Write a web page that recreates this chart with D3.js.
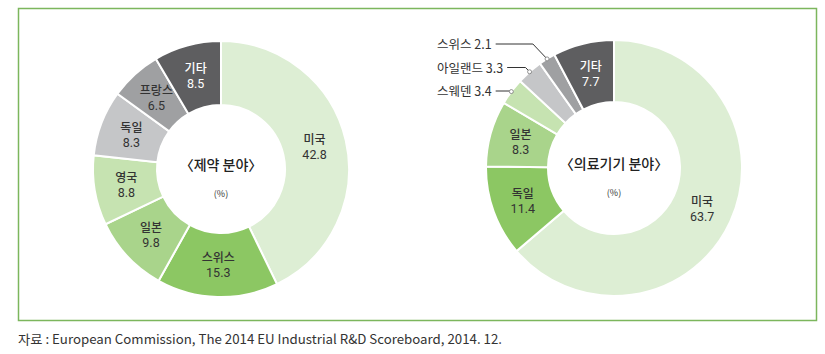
<!DOCTYPE html>
<html>
<head>
<meta charset="utf-8">
<script src="https://cdn.jsdelivr.net/npm/d3@7"></script>
<style>
  body { margin: 0; background: #fff; }
  svg { display: block; font-family: "Noto Sans CJK KR", "Noto Sans", sans-serif; }
</style>
</head>
<body>
<div id="chart"></div>
<script>
// 제약 분야
var pharmaNames = ['미국', '스위스', '일본', '영국', '독일', '프랑스', '기타']
var pharmaValues = [42.8, 15.3, 9.8, 8.8, 8.3, 6.5, 8.5]

// 의료기기 분야
var deviceNames = ['미국', '독일', '일본', '스웨덴', '아일랜드', '스위스', '기타']
var deviceValues = [63.7, 11.4, 8.3, 3.4, 3.3, 2.1, 7.7]

var palette = ['#ddeed4', '#8cc763', '#a9d48b', '#c6e3b1', '#c5c6c8', '#9fa0a2', '#5e5e60']

var width = 825, height = 354

var svg = d3.select('#chart').append('svg')
    .attr('width', width)
    .attr('height', height)

// frame
svg.append('rect')
    .attr('x', 18.5).attr('y', 8.5)
    .attr('width', 798).attr('height', 312)
    .attr('fill', 'none')
    .attr('stroke', '#7cb65d')
    .attr('stroke-width', 1.5)

var pie = d3.pie().sort(null).value(d => d.value)

function donut(cx, cy, inner, outer, names, values, title, smallLimit) {
    var rows = names.map((n, i) => ({name: n, value: values[i], color: palette[i]}))
    var arcs = pie(rows)
    var arc = d3.arc().innerRadius(inner).outerRadius(outer)
    var g = svg.append('g').attr('transform', 'translate(' + cx + ',' + cy + ')')

    g.selectAll('path')
        .data(arcs)
        .enter().append('path')
        .attr('d', arc)
        .attr('fill', d => d.data.color)
        .attr('stroke', '#fff')
        .attr('stroke-width', 2)

    var big = arcs.filter(d => d.data.value >= smallLimit)
    var lab = g.selectAll('.lab')
        .data(big)
        .enter().append('g')
        .attr('class', 'lab')
        .attr('transform', d => 'translate(' + arc.centroid(d) + ')')
    lab.append('text')
        .attr('text-anchor', 'middle')
        .attr('y', -3)
        .attr('font-size', 12)
        .attr('font-weight', 500)
        .attr('fill', d => d.index == 6 ? '#fff' : '#333')
        .text(d => d.data.name)
    lab.append('text')
        .attr('text-anchor', 'middle')
        .attr('y', 12)
        .attr('font-size', 12.5)
        .attr('font-family', 'Roboto, sans-serif')
        .attr('fill', d => d.index == 6 ? '#fff' : '#333')
        .text(d => d.data.value.toFixed(1))

    // callouts for small slices
    var small = arcs.filter(d => d.data.value < smallLimit).reverse()
    small.forEach((d, k) => {
        var a = (d.startAngle + d.endAngle) / 2
        var px = outer * Math.sin(a), py = -outer * Math.cos(a)
        var ly = -124 + k * 23.5
        var ex = px - (py - ly) * 0.95
        if (ex > px) ex = px
        var t = g.append('text')
            .attr('x', -177)
            .attr('y', ly + 5)
            .attr('font-size', 12.5)
            .attr('fill', '#333')
            .text(d.data.name + ' ' + d.data.value.toFixed(1))
        var tEnd = -177 + t.node().getComputedTextLength() + 4
        g.append('path')
            .attr('d', 'M' + px + ',' + py + 'L' + ex + ',' + ly + 'L' + tEnd + ',' + ly)
            .attr('fill', 'none')
            .attr('stroke', '#333')
            .attr('stroke-width', 1)
        g.append('circle')
            .attr('cx', px).attr('cy', py).attr('r', 2)
            .attr('fill', '#fff')
            .attr('stroke', '#777')
            .attr('stroke-width', 0.8)
    })

    g.append('text')
        .attr('text-anchor', 'middle')
        .attr('y', 1)
        .attr('font-size', 14)
        .attr('font-weight', 500)
        .attr('fill', '#222')
        .text('〈' + title + '〉')
    g.append('text')
        .attr('text-anchor', 'middle')
        .attr('y', 28)
        .attr('font-size', 9)
        .attr('fill', '#333')
        .text('(%)')
}

donut(221, 169, 64, 128, pharmaNames, pharmaValues, '제약 분야', 0)
donut(614, 168, 66, 128, deviceNames, deviceValues, '의료기기 분야', 5)

svg.append('text')
    .attr('x', 18)
    .attr('y', 344)
    .attr('font-size', 13)
    .attr('fill', '#333')
    .attr('textLength', 484)
    .attr('lengthAdjust', 'spacingAndGlyphs')
    .text('자료 : European Commission, The 2014 EU Industrial R&D Scoreboard, 2014. 12.')
</script>
</body>
</html>
